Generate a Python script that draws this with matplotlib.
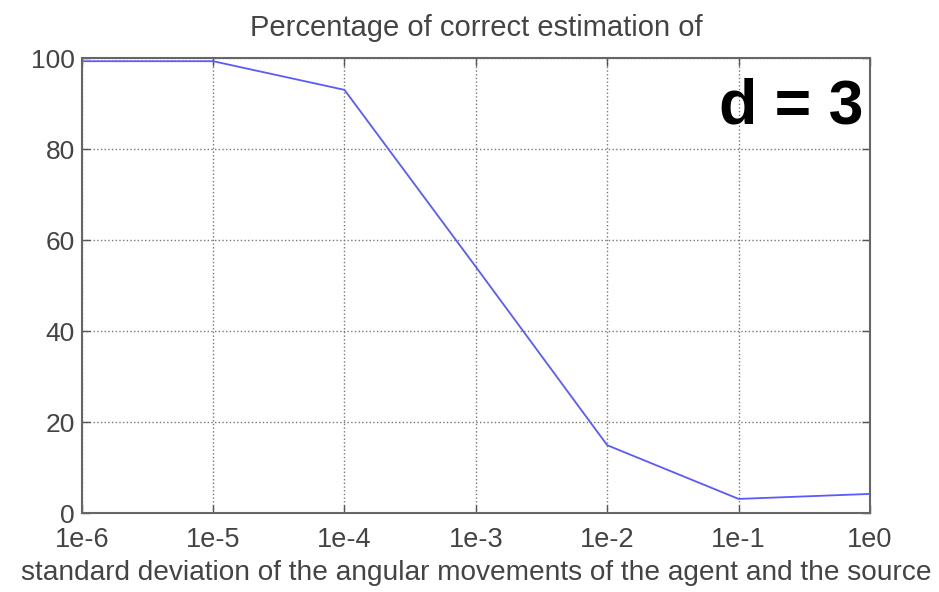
import matplotlib
matplotlib.use('Agg')
import matplotlib.pyplot as plt

# data
sigma = [1e-6, 1e-5, 1e-4, 1e-3, 1e-2, 1e-1, 1e0]
pct_correct = [99.3, 99.3, 93.0, 54.1, 14.9, 3.1, 4.2]
xtick_labels = ['1e-6', '1e-5', '1e-4', '1e-3', '1e-2', '1e-1', '1e0']
yticks = [0, 20, 40, 60, 80, 100]

plt.rcParams['font.family'] = ['Liberation Sans', 'DejaVu Sans']
txt = '#444444'

fig = plt.figure(figsize=(9.39, 5.92), dpi=100)
ax = fig.add_axes([0.087, 0.1334, 0.8395, 0.7686])

ax.plot(sigma, pct_correct, color='#5a5aff', linewidth=1.3)

ax.set_xscale('log')
ax.set_xlim(1e-6, 1e0)
ax.set_ylim(0, 100)
ax.set_xticks(sigma)
ax.set_xticklabels(xtick_labels)
ax.minorticks_off()
ax.set_yticks(yticks)

ax.grid(True, linestyle=':', color='#777777', linewidth=1.0)
ax.tick_params(direction='in', top=True, right=True, length=6, width=1,
               colors='#555555', labelsize=19, labelcolor=txt)
ax.tick_params(axis='x', pad=10, labelsize=19.5)
ax.tick_params(axis='y', pad=5)
for s in ax.spines.values():
    s.set_color('#666666')
    s.set_linewidth(1.5)

ax.set_title('Percentage of correct estimation of', fontsize=21, color=txt, pad=16)
# long label, nearly as wide as the figure
ax.set_xlabel('standard deviation of the angular movements of the agent and the source',
              fontsize=20.2, color=txt, labelpad=5)

ax.text(0.991, 0.857, 'd = 3', transform=ax.transAxes, ha='right', va='baseline',
        fontsize=45, fontweight='bold', color='black')

fig.savefig('out.png', dpi=100)
